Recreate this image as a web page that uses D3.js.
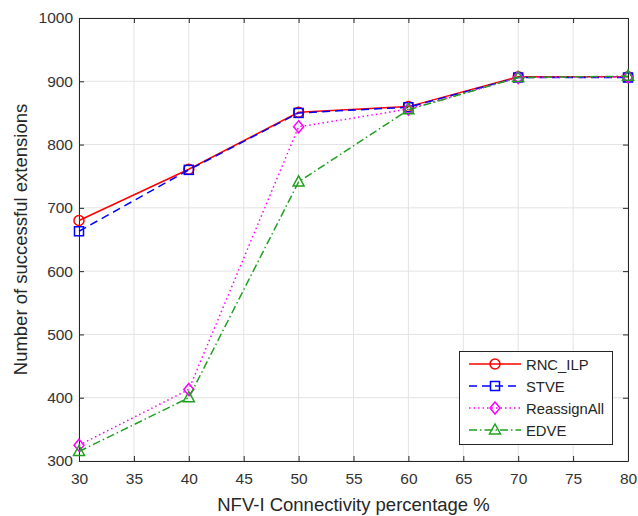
<!DOCTYPE html>
<html><head><meta charset="utf-8">
<script src="https://cdn.jsdelivr.net/npm/d3@7"></script>
<style>body{margin:0;background:#fff}svg{display:block}text{font-family:"Liberation Sans",Arial,sans-serif}</style>
</head><body><svg id="c" width="638" height="516"></svg>
<script>
const xValues = [30, 40, 50, 60, 70, 80];
const rncIlp = [680, 761, 851, 860, 907, 907];
const stve = [663, 760, 850, 859, 906, 906];
const reassignAll = [325, 413, 828, 856, 906, 907];
const edve = [315, 400, 741, 855, 906, 908];
const xTicks = [30, 35, 40, 45, 50, 55, 60, 65, 70, 75, 80];
const yTicks = [300, 400, 500, 600, 700, 800, 900, 1000];

const series = [
  {name: "RNC_ILP", values: rncIlp, color: "#ff0000", dash: null, marker: "circle"},
  {name: "STVE", values: stve, color: "#0000ff", dash: "8,5", marker: "square"},
  {name: "ReassignAll", values: reassignAll, color: "#ff00ff", dash: "1.5,3", marker: "diamond"},
  {name: "EDVE", values: edve, color: "#20a020", dash: "8,3,1.5,3", marker: "triangle"}
];

const svg = d3.select("#c");
const L = 79, R = 628, T = 18, B = 461;
const x = d3.scaleLinear().domain([30, 80]).range([L, R]);
const y = d3.scaleLinear().domain([300, 1000]).range([B, T]);

// grid
const g = svg.append("g");
g.selectAll(".gx").data(xTicks).enter().append("line")
  .attr("x1", d => x(d)).attr("x2", d => x(d)).attr("y1", T).attr("y2", B)
  .attr("stroke", "#e3e3e3").attr("stroke-width", 1);
g.selectAll(".gy").data(yTicks).enter().append("line")
  .attr("y1", d => y(d)).attr("y2", d => y(d)).attr("x1", L).attr("x2", R)
  .attr("stroke", "#e3e3e3").attr("stroke-width", 1);

// axes
const fmt = d3.format("d");
const axB = svg.append("g").attr("transform", `translate(0,${B})`)
  .call(d3.axisBottom(x).tickValues(xTicks).tickSizeInner(-5).tickSizeOuter(0).tickPadding(12).tickFormat(fmt));
const axL = svg.append("g").attr("transform", `translate(${L},0)`)
  .call(d3.axisLeft(y).tickValues(yTicks).tickSizeInner(-5).tickSizeOuter(0).tickPadding(6).tickFormat(fmt));
const axT = svg.append("g").attr("transform", `translate(0,${T})`)
  .call(d3.axisTop(x).tickValues(xTicks).tickSizeInner(-5).tickSizeOuter(0).tickFormat(""));
const axR = svg.append("g").attr("transform", `translate(${R},0)`)
  .call(d3.axisRight(y).tickValues(yTicks).tickSizeInner(-5).tickSizeOuter(0).tickFormat(""));
[axB, axL, axT, axR].forEach(a => {
  a.select(".domain").attr("stroke", "#262626").attr("stroke-width", 1);
  a.selectAll(".tick line").attr("stroke", "#262626");
  a.selectAll("text").attr("fill", "#333").style("font-size", "15.5px");
});

svg.append("text").attr("x", (L + R) / 2 + 0).attr("y", 511).attr("text-anchor", "middle")
  .attr("fill", "#262626").style("font-size", "18.5px").text("NFV-I Connectivity percentage %");
svg.append("text").attr("transform", `translate(27,${(T + B) / 2}) rotate(-90)`).attr("text-anchor", "middle")
  .attr("fill", "#262626").style("font-size", "18.5px").text("Number of successful extensions");

function drawMarker(sel, type, color) {
  if (type === "circle") sel.append("circle").attr("r", 5);
  else if (type === "square") sel.append("rect").attr("x", -4.5).attr("y", -4.5).attr("width", 9).attr("height", 9);
  else if (type === "diamond") sel.append("path").attr("d", "M0,-6L5,0L0,6L-5,0Z");
  else sel.append("path").attr("d", "M0,-6L5.5,4L-5.5,4Z");
  sel.selectAll("*").attr("fill", "none").attr("stroke", color).attr("stroke-width", 1.5);
}

const line = d3.line().x((d, i) => x(xValues[i])).y(d => y(d));
series.forEach(s => {
  svg.append("path").datum(s.values).attr("d", line).attr("fill", "none")
    .attr("stroke", s.color).attr("stroke-width", 1.5)
    .attr("stroke-dasharray", s.dash);
  s.values.forEach((v, i) => {
    const m = svg.append("g").attr("transform", `translate(${x(xValues[i])},${y(v)})`);
    drawMarker(m, s.marker, s.color);
  });
});

// legend
const lg = svg.append("g");
lg.append("rect").attr("x", 459.5).attr("y", 351.5).attr("width", 153).attr("height", 93)
  .attr("fill", "#fff").attr("stroke", "#262626").attr("stroke-width", 1);
series.forEach((s, i) => {
  const yy = 364 + i * 22;
  lg.append("line").attr("x1", 469).attr("x2", 521).attr("y1", yy).attr("y2", yy)
    .attr("stroke", s.color).attr("stroke-width", 1.5).attr("stroke-dasharray", s.dash);
  const m = lg.append("g").attr("transform", `translate(495,${yy})`);
  drawMarker(m, s.marker, s.color);
  lg.append("text").attr("x", 526).attr("y", yy + 5.5).attr("fill", "#262626")
    .style("font-size", "14.8px").text(s.name);
});
</script></body></html>
